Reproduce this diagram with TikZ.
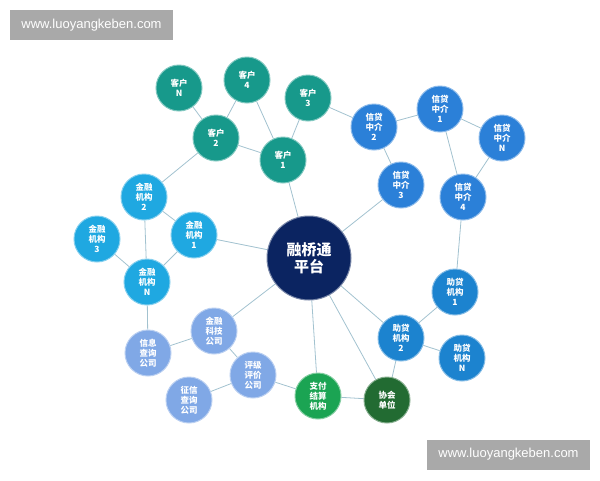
\documentclass[tikz,border=0pt]{standalone}
\usepackage{fontspec}
\newfontfamily\cjk{Noto Sans CJK SC}
\setsansfont{Liberation Sans}
\usetikzlibrary{backgrounds}

\definecolor{kehu}{HTML}{17998B}
\definecolor{jinrong}{HTML}{1FA8E1}
\definecolor{xindai}{HTML}{2B80D8}
\definecolor{zhudai}{HTML}{1C83CF}
\definecolor{fuwu}{HTML}{80A8E6}
\definecolor{zhifu}{HTML}{1BA453}
\definecolor{xiehui}{HTML}{226B32}
\definecolor{pingtai}{HTML}{0B2461}
\definecolor{lianxian}{HTML}{A2C2CF}
\definecolor{shuiyin}{HTML}{A9A9A9}

\tikzset{
  quan/.style={circle, fill=#1, draw=#1!55!white, line width=1pt, minimum size=46pt,
    inner sep=0pt, text=white, align=center,
    font=\cjk\bfseries\fontsize{8.5}{10}\selectfont},
  lian/.style={draw=lianxian, line width=0.8pt},
  shuiyinbox/.style={fill=shuiyin, text=white, minimum width=163pt, minimum height=30pt,
    inner sep=0pt, font=\sffamily\fontsize{13}{15}\selectfont}
}

\begin{document}
\begin{tikzpicture}[x=1pt, y=-1pt]
        \useasboundingbox (0,0) rectangle (600,480);
        % watermarks
        \node[shuiyinbox] (sy1) at (91.5,25) {www.luoyangkeben.com};
        \node[shuiyinbox] (sy2) at (508.5,454.5) {www.luoyangkeben.com};
        % center
        \node[circle, fill=pingtai, draw=pingtai!55!white, line width=1pt, minimum size=84pt,
          inner sep=0pt, text=white, align=center,
          font=\cjk\bfseries\fontsize{15}{17}\selectfont] (pt) at (309,258) {融桥通\\平台};
        % customers
        \node[quan=kehu] (khN) at (179,88) {客户\\N};
        \node[quan=kehu] (kh4) at (247,80) {客户\\4};
        \node[quan=kehu] (kh3) at (308,98) {客户\\3};
        \node[quan=kehu] (kh2) at (216,138) {客户\\2};
        \node[quan=kehu] (kh1) at (283,160) {客户\\1};
        % financial institutions
        \node[quan=jinrong] (jr2) at (144,197) {金融\\机构\\2};
        \node[quan=jinrong] (jr3) at (97,239) {金融\\机构\\3};
        \node[quan=jinrong] (jr1) at (194,235) {金融\\机构\\1};
        \node[quan=jinrong] (jrN) at (147,282) {金融\\机构\\N};
        % credit agents
        \node[quan=xindai] (xd2) at (374,127) {信贷\\中介\\2};
        \node[quan=xindai] (xd1) at (440,109) {信贷\\中介\\1};
        \node[quan=xindai] (xdN) at (502,138) {信贷\\中介\\N};
        \node[quan=xindai] (xd3) at (401,185) {信贷\\中介\\3};
        \node[quan=xindai] (xd4) at (463,197) {信贷\\中介\\4};
        % loan helpers
        \node[quan=zhudai] (zd1) at (455,292) {助贷\\机构\\1};
        \node[quan=zhudai] (zd2) at (401,338) {助贷\\机构\\2};
        \node[quan=zhudai] (zdN) at (462,358) {助贷\\机构\\N};
        % services
        \node[quan=fuwu] (kj) at (214,331) {金融\\科技\\公司};
        \node[quan=fuwu] (xx) at (148,353) {信息\\查询\\公司};
        \node[quan=fuwu] (pj) at (253,375) {评级\\评价\\公司};
        \node[quan=fuwu] (zx) at (189,400) {征信\\查询\\公司};
        \node[quan=zhifu] (zf) at (318,396) {支付\\结算\\机构};
        \node[quan=xiehui] (xh) at (387,400) {协会\\单位};

        \begin{scope}[on background layer]
        \draw[lian] (khN) -- (kh2);
        \draw[lian] (kh4) -- (kh2);
        \draw[lian] (kh4) -- (kh1);
        \draw[lian] (kh3) -- (kh1);
        \draw[lian] (kh2) -- (kh1);
        \draw[lian] (kh2) -- (jr2);
        \draw[lian] (kh1) -- (pt);
        \draw[lian] (kh3) -- (xd2);
        \draw[lian] (xd2) -- (xd1);
        \draw[lian] (xd2) -- (xd3);
        \draw[lian] (xd1) -- (xdN);
        \draw[lian] (xd1) -- (xd4);
        \draw[lian] (xdN) -- (xd4);
        \draw[lian] (xd3) -- (pt);
        \draw[lian] (xd4) -- (zd1);
        \draw[lian] (jr2) -- (jr1);
        \draw[lian] (jr2) -- (jrN);
        \draw[lian] (jr3) -- (jrN);
        \draw[lian] (jr1) -- (jrN);
        \draw[lian] (jr1) -- (pt);
        \draw[lian] (jrN) -- (xx);
        \draw[lian] (pt) -- (kj);
        \draw[lian] (xx) -- (kj);
        \draw[lian] (kj) -- (pj);
        \draw[lian] (pj) -- (zx);
        \draw[lian] (pj) -- (zf);
        \draw[lian] (zf) -- (xh);
        \draw[lian] (pt) -- (zf);
        \draw[lian] (pt) -- (xh);
        \draw[lian] (pt) -- (zd2);
        \draw[lian] (zd2) -- (zd1);
        \draw[lian] (zd2) -- (zdN);
        \draw[lian] (zd2) -- (xh);
        \end{scope}
    \end{tikzpicture}
\end{document}
